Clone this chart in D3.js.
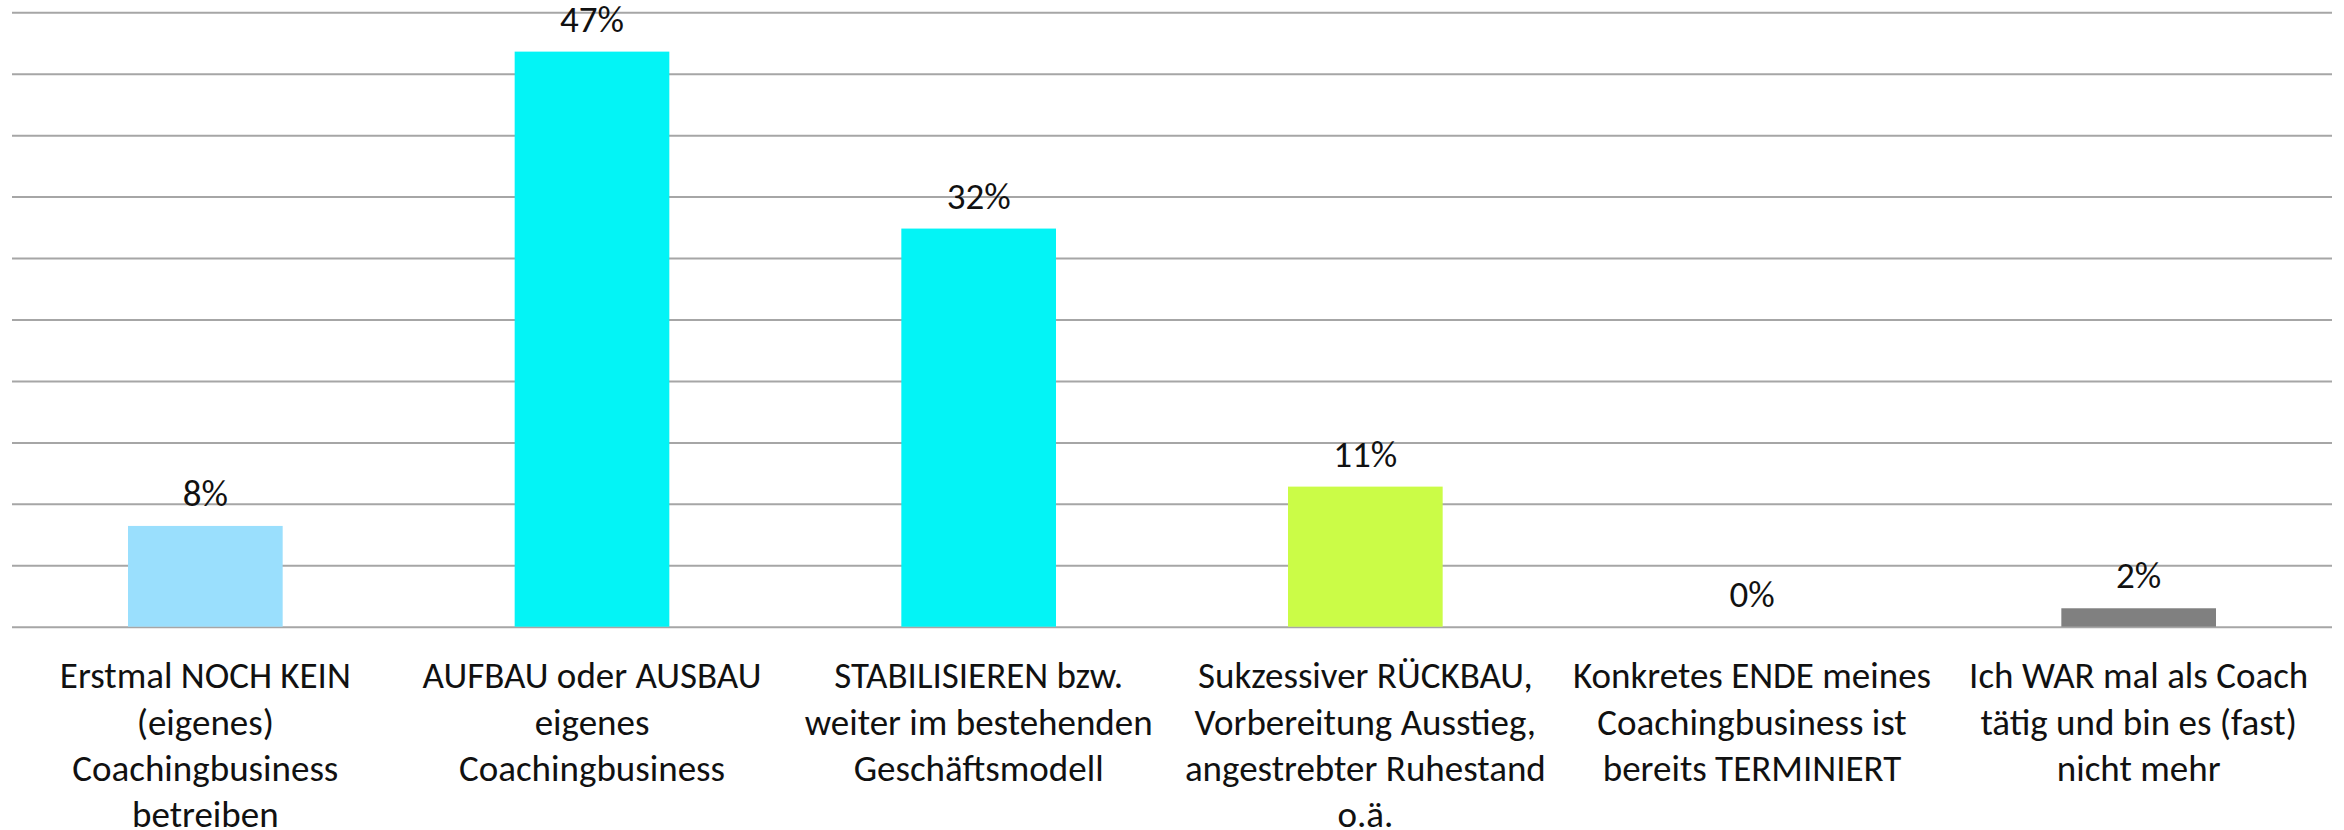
<!DOCTYPE html>
<html>
<head>
<meta charset="utf-8">
<script src="https://cdn.jsdelivr.net/npm/d3@7"></script>
<style>
  html, body { margin: 0; padding: 0; background: #ffffff; }
  svg { display: block; }
</style>
</head>
<body>
<svg id="chart" width="2344" height="830"></svg>
<script>
// ---------------- data ----------------
const categories = [
  "Erstmal NOCH KEIN (eigenes) Coachingbusiness betreiben",
  "AUFBAU oder AUSBAU eigenes Coachingbusiness",
  "STABILISIEREN bzw. weiter im bestehenden Geschäftsmodell",
  "Sukzessiver RÜCKBAU, Vorbereitung Ausstieg, angestrebter Ruhestand o.ä.",
  "Konkretes ENDE meines Coachingbusiness ist bereits TERMINIERT",
  "Ich WAR mal als Coach tätig und bin es (fast) nicht mehr"
];
const categoryLines = [
  ["Erstmal NOCH KEIN", "(eigenes)", "Coachingbusiness", "betreiben"],
  ["AUFBAU oder AUSBAU", "eigenes", "Coachingbusiness"],
  ["STABILISIEREN bzw.", "weiter im bestehenden", "Geschäftsmodell"],
  ["Sukzessiver RÜCKBAU,", "Vorbereitung Ausstieg,", "angestrebter Ruhestand", "o.ä."],
  ["Konkretes ENDE meines", "Coachingbusiness ist", "bereits TERMINIERT"],
  ["Ich WAR mal als Coach", "tätig und bin es (fast)", "nicht mehr"]
];
const values = [8.2, 46.8, 32.4, 11.4, 0, 1.5];          // percent
const valueLabels = ["8%", "47%", "32%", "11%", "0%", "2%"];
const barColors = ["#9ADFFD", "#03F4F6", "#03F4F6", "#CBFC47", "#CBFC47", "#808080"];
const gridTicks = [0, 5, 10, 15, 20, 25, 30, 35, 40, 45, 50];

// ---------------- font selection ----------------
function hasFont(name) {
  const c = document.createElement("canvas").getContext("2d");
  const s = "Erstmal NOCH KEIN mmmwwwiiil";
  let res = false;
  ["monospace", "serif"].forEach(g => {
    c.font = `40px ${g}`; const a = c.measureText(s).width;
    c.font = `40px "${name}", ${g}`; const b = c.measureText(s).width;
    if (Math.abs(a - b) > 0.5) res = true;
  });
  return res;
}
const fontCandidates = ["Carlito", "Calibri", "Liberation Sans Narrow", "Arial Narrow", "Liberation Sans", "Arial"];
const fontName = fontCandidates.find(hasFont) || "sans-serif";
const fontSize = 37;
// horizontal squeeze so the text width matches a Calibri-like face
const ctx = document.createElement("canvas").getContext("2d");
ctx.font = `${fontSize}px "${fontName}"`;
const refW = ctx.measureText("Erstmal NOCH KEIN").width;
const sx = Math.min(1, 291 / refW);

// ---------------- layout ----------------
const svg = d3.select("#chart");
const plot = { left: 12, right: 2332, top: 12.3, bottom: 626.7 };

const x = d3.scaleBand()
  .domain(categories)
  .range([plot.left, plot.right])
  .paddingInner(0.6)
  .paddingOuter(0.3);

const y = d3.scaleLinear()
  .domain([0, 50])
  .range([plot.bottom, plot.top]);

// gridlines
const grid = svg.append("g")
  .attr("transform", `translate(${plot.left},0)`)
  .call(d3.axisLeft(y).tickValues(gridTicks).tickSize(-(plot.right - plot.left)).tickFormat(""));
grid.select(".domain").remove();
grid.selectAll(".tick line")
  .attr("stroke", "#A6A6A6")
  .attr("stroke-width", 2);

// bars
svg.append("g").selectAll("rect")
  .data(values)
  .join("rect")
  .attr("x", (d, i) => x(categories[i]))
  .attr("width", x.bandwidth())
  .attr("y", d => y(d))
  .attr("height", d => y(0) - y(d))
  .attr("fill", (d, i) => barColors[i]);

// data labels
svg.append("g").selectAll("text")
  .data(values)
  .join("text")
  .attr("transform", (d, i) => `translate(${x(categories[i]) + x.bandwidth() / 2},${y(d) - 20}) scale(${sx},1)`)
  .attr("text-anchor", "middle")
  .attr("font-family", `"${fontName}", sans-serif`)
  .attr("font-size", fontSize)
  .attr("fill", "#111")
  .text((d, i) => valueLabels[i]);

// category axis (no line, no ticks) with wrapped labels
const xAxis = svg.append("g")
  .attr("transform", `translate(0,${plot.bottom})`)
  .call(d3.axisBottom(x).tickSize(0).tickFormat(""));
xAxis.select(".domain").remove();

xAxis.selectAll(".tick").each(function(d, i) {
  const g = d3.select(this);
  g.selectAll("text").remove();
  categoryLines[i].forEach((line, k) => {
    g.append("text")
      .attr("transform", `translate(0,${61.5 + k * 46.3}) scale(${sx},1)`)
      .attr("text-anchor", "middle")
      .attr("font-family", `"${fontName}", sans-serif`)
      .attr("font-size", fontSize)
      .attr("fill", "#111")
      .text(line);
  });
});
</script>
</body>
</html>
